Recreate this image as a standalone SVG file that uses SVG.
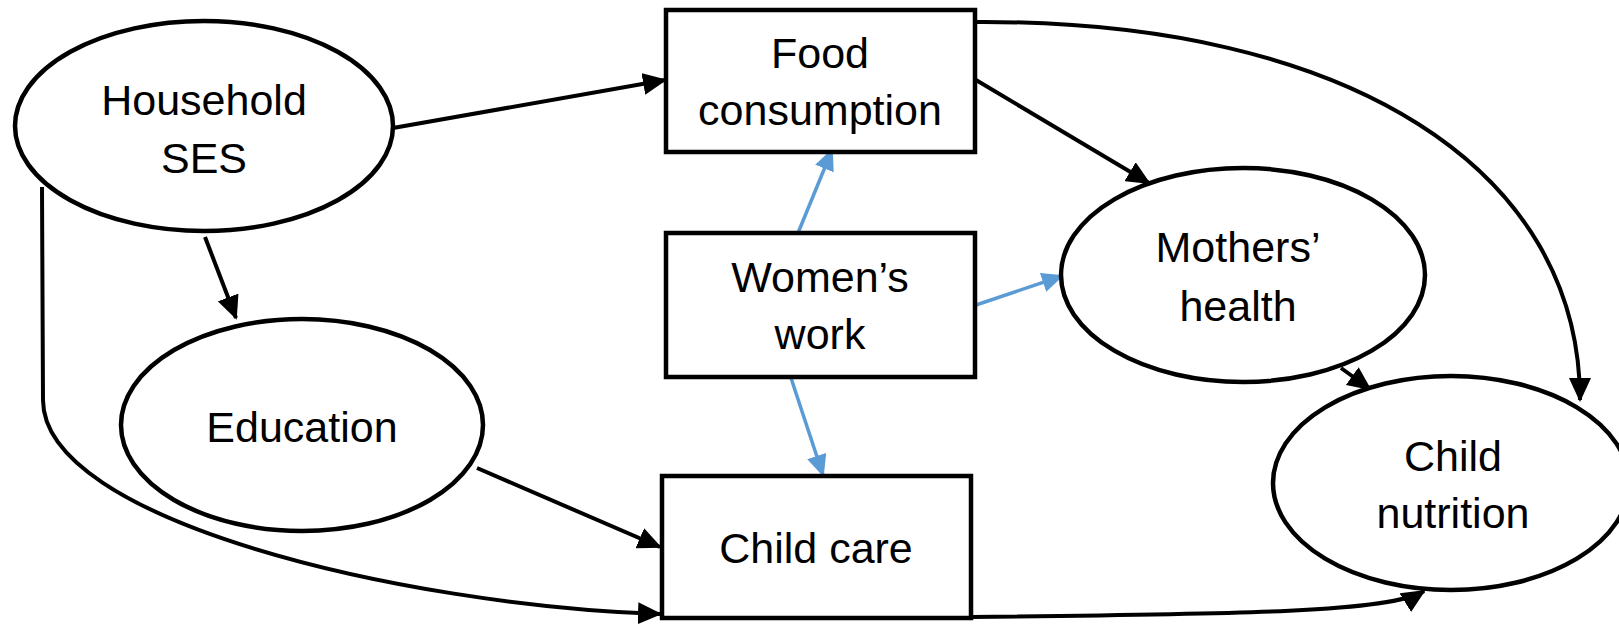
<svg xmlns="http://www.w3.org/2000/svg" width="1619" height="630" viewBox="0 0 1619 630">
  <style>
    .shape { fill: #ffffff; stroke: #000000; stroke-width: 4.5; }
    .label { font-family: "Liberation Sans", Arial, sans-serif; font-size: 43px; fill: #000000; text-anchor: middle; }
    .link { fill: none; stroke: #000000; stroke-width: 4; }
    .link-blue { fill: none; stroke: #5B9BD5; stroke-width: 3.5; }
  </style>
  <defs>
    <marker id="arrow-black" viewBox="0 0 24 22" refX="22" refY="11" markerWidth="24" markerHeight="22" markerUnits="userSpaceOnUse" orient="auto">
      <path d="M0,0 L24,11 L0,22 z" fill="#000000"/>
    </marker>
    <marker id="arrow-blue" viewBox="0 0 22 20" refX="20" refY="10" markerWidth="22" markerHeight="20" markerUnits="userSpaceOnUse" orient="auto">
      <path d="M0,0 L22,10 L0,20 z" fill="#5B9BD5"/>
    </marker>
  </defs>

  <!-- connectors -->
  <g id="connectors">
    <path class="link" d="M393,128 L665,80" marker-end="url(#arrow-black)"/>
    <path class="link" d="M205,237 L236,318" marker-end="url(#arrow-black)"/>
    <path class="link" d="M42,187 L43,400 C43,520 400,605 660,614" marker-end="url(#arrow-black)"/>
    <path class="link" d="M477,468 L660,547" marker-end="url(#arrow-black)"/>
    <path class="link" d="M976,80 L1149,183" marker-end="url(#arrow-black)"/>
    <path class="link" d="M976,22 C1350,20 1580,170 1580,400" marker-end="url(#arrow-black)"/>
    <path class="link" d="M1341,368 L1370,389" marker-end="url(#arrow-black)"/>
    <path class="link" d="M971,617 C1250,614 1390,612 1424,591" marker-end="url(#arrow-black)"/>
    <path class="link-blue" d="M798,233 L832,150" marker-end="url(#arrow-blue)"/>
    <path class="link-blue" d="M976,305 L1062,276" marker-end="url(#arrow-blue)"/>
    <path class="link-blue" d="M791,378 L823,475" marker-end="url(#arrow-blue)"/>
  </g>

  <!-- nodes -->
  <g id="household-ses">
    <ellipse class="shape" cx="204" cy="126" rx="189" ry="105"/>
    <text class="label" x="204" y="115">Household</text>
    <text class="label" x="204" y="173">SES</text>
  </g>

  <g id="food-consumption">
    <rect class="shape" x="666" y="10" width="309" height="142"/>
    <text class="label" x="820" y="68">Food</text>
    <text class="label" x="820" y="125">consumption</text>
  </g>

  <g id="womens-work">
    <rect class="shape" x="666" y="233" width="309" height="144"/>
    <text class="label" x="820" y="292">Women’s</text>
    <text class="label" x="820" y="349">work</text>
  </g>

  <g id="child-care">
    <rect class="shape" x="662" y="476" width="309" height="142"/>
    <text class="label" x="816" y="563">Child care</text>
  </g>

  <g id="education">
    <ellipse class="shape" cx="302" cy="425" rx="181" ry="106"/>
    <text class="label" x="302" y="442">Education</text>
  </g>

  <g id="mothers-health">
    <ellipse class="shape" cx="1243" cy="275" rx="182" ry="107"/>
    <text class="label" x="1238" y="262">Mothers’</text>
    <text class="label" x="1238" y="321">health</text>
  </g>

  <g id="child-nutrition">
    <ellipse class="shape" cx="1451" cy="483" rx="178" ry="107"/>
    <text class="label" x="1453" y="471">Child</text>
    <text class="label" x="1453" y="528">nutrition</text>
  </g>
</svg>
